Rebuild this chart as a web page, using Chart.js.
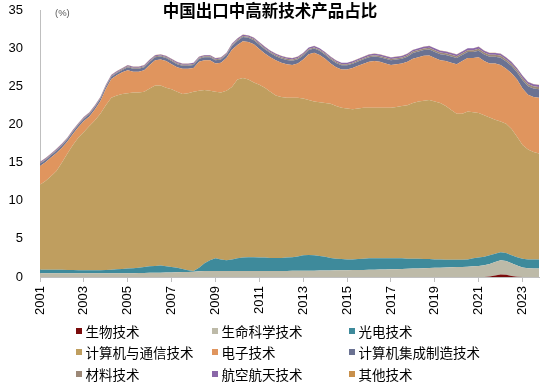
<!DOCTYPE html>
<html>
<head>
<meta charset="utf-8">
<script src="https://cdn.jsdelivr.net/npm/chart.js@4/dist/chart.umd.min.js"></script>
<style>
html,body{margin:0;padding:0;background:#fff;}
#wrap{width:550px;height:386px;position:relative;}
</style>
</head>
<body>
<div id="wrap"><canvas id="c" width="550" height="386"></canvas></div>
<script>
// ---------- texts ----------
const chartTitle = '中国出口中高新技术产品占比';
const unitLabel = '(%)';
const seriesNames = ['生物技术','生命科学技术','光电技术','计算机与通信技术','电子技术','计算机集成制造技术','材料技术','航空航天技术','其他技术'];
const yTickValues = [0,5,10,15,20,25,30,35];
const xTickYears = [2001,2003,2005,2007,2009,2011,2013,2015,2017,2019,2021,2023];
const firstYear = 2001; // quarterly observations, 2001Q1 .. 2023Q4

// ---------- series values (%, one row per year, Q1..Q4) ----------
const biotech = [
0,0,0,0, 0,0,0,0, 0,0,0,0, 0,0,0,0, 0,0,0,0,
0,0,0,0, 0,0,0,0, 0,0,0,0, 0,0,0,0, 0,0,0,0,
0,0,0,0, 0,0,0,0, 0,0,0,0, 0,0,0,0, 0,0,0,0,
0,0,0,0, 0,0,0,0, 0,0,0,0, 0,0,0,0, 0,0,0,0,
0,0,0.08,0.2, 0.33,0.28,0.13,0.03, 0,0,0,0];
const lifeScience = [
0.5,0.5,0.5,0.5, 0.5,0.5,0.5,0.5, 0.5,0.5,0.5,0.5, 0.5,0.5,0.5,0.5,
0.5,0.5,0.52,0.53, 0.55,0.56,0.57,0.58, 0.6,0.62,0.65,0.67, 0.7,0.75,0.8,0.8,
0.8,0.8,0.8,0.8, 0.8,0.8,0.8,0.8, 0.8,0.8,0.8,0.8, 0.8,0.8,0.81,0.81,
0.82,0.82,0.83,0.84, 0.85,0.86,0.87,0.88, 0.9,0.91,0.92,0.93, 0.95,0.96,0.97,0.98,
1.0,1.02,1.04,1.07, 1.1,1.12,1.14,1.17, 1.2,1.22,1.25,1.27, 1.3,1.32,1.35,1.4,
1.45,1.55,1.62,1.75, 1.87,1.82,1.67,1.47, 1.25,1.15,1.1,1.1];
const optoelectronics = [
0.45,0.45,0.45,0.45, 0.45,0.43,0.42,0.4, 0.4,0.4,0.4,0.4, 0.42,0.45,0.5,0.55,
0.6,0.65,0.68,0.77, 0.85,0.89,0.93,0.82, 0.7,0.58,0.4,0.23, 0.08,0.45,1.0,1.4,
1.65,1.5,1.4,1.5, 1.65,1.75,1.8,1.8, 1.75,1.75,1.7,1.7, 1.7,1.75,1.79,1.89,
2.03,2.08,2.02,1.91, 1.8,1.64,1.53,1.47, 1.4,1.39,1.43,1.47, 1.5,1.49,1.48,1.47,
1.45,1.43,1.41,1.33, 1.3,1.28,1.21,1.18, 1.1,1.08,1.0,0.98, 0.95,0.93,0.95,1.05,
1.1,1.1,1.15,1.1, 1.05,1.05,1.05,1.1, 1.15,1.15,1.2,1.2];
const computerComm = [
11.15,11.65,12.25,12.95, 14.05,15.27,16.38,17.4, 18.1,18.9,19.6,20.5, 21.58,22.55,22.8,22.95,
23.0,23.05,23.0,23.0, 23.3,23.65,23.6,23.4, 23.3,23.1,22.95,23.2, 23.52,23.2,22.7,22.2,
21.85,21.9,22.2,22.6, 23.45,23.55,23.3,22.9, 22.65,22.25,21.8,21.3, 21.1,20.95,20.9,20.8,
20.55,20.3,20.15,20.15, 20.15,20.2,20.0,19.85, 19.8,19.7,19.75,19.8, 19.75,19.75,19.75,19.75,
19.75,19.85,19.95,20.1, 20.4,20.6,20.75,20.85, 20.7,20.5,20.15,19.65, 19.15,19.15,19.4,19.15,
18.95,18.55,18.05,17.55, 17.15,16.95,16.55,15.8, 14.9,14.4,14.1,13.9];
const electronics = [
2.45,2.45,2.45,2.35, 1.95,1.55,1.45,1.35, 1.45,1.25,1.45,1.65, 2.15,2.45,2.65,2.85,
3.0,2.7,2.7,2.8, 3.1,3.3,3.4,3.5, 3.3,3.2,3.3,3.2, 3.1,3.8,3.9,4.0,
3.7,3.9,4.3,4.9, 4.5,4.8,4.9,5.0, 4.7,4.5,4.5,4.6, 4.5,4.4,4.3,4.5,
5.1,6.0,6.4,6.2, 5.8,5.3,5.1,5.0, 5.1,5.4,5.6,5.75, 6.0,6.1,6.0,5.8,
5.6,5.6,5.6,5.7, 5.8,5.8,5.9,5.85, 5.7,5.6,5.9,6.2, 6.5,6.9,7.0,7.1,
7.3,7.1,7.1,7.4, 7.4,7.2,7.3,7.5, 7.4,7.2,7.2,7.3];
const integratedMfg = [
0.3,0.3,0.3,0.3, 0.3,0.3,0.3,0.3, 0.3,0.3,0.3,0.3, 0.3,0.3,0.3,0.3,
0.4,0.4,0.4,0.4, 0.4,0.4,0.4,0.4, 0.4,0.4,0.4,0.4, 0.4,0.4,0.4,0.4,
0.4,0.4,0.4,0.47, 0.55,0.55,0.55,0.55, 0.55,0.55,0.55,0.55, 0.55,0.55,0.55,0.55,
0.55,0.55,0.55,0.55, 0.55,0.55,0.55,0.55, 0.55,0.55,0.55,0.58, 0.6,0.6,0.6,0.6,
0.6,0.6,0.6,0.67, 0.75,0.75,0.75,0.78, 0.8,0.8,0.8,0.8, 0.8,0.8,0.8,0.8,
0.87,0.87,0.87,0.87, 0.95,0.95,0.95,0.95, 1.1,1.1,1.1,1.1];
const materials = [
0.1,0.1,0.1,0.1, 0.1,0.1,0.1,0.1, 0.1,0.1,0.1,0.1, 0.1,0.1,0.1,0.1,
0.13,0.13,0.13,0.13, 0.13,0.13,0.13,0.13, 0.13,0.13,0.13,0.13, 0.13,0.13,0.13,0.13,
0.13,0.13,0.13,0.14, 0.15,0.15,0.15,0.15, 0.15,0.15,0.15,0.15, 0.15,0.15,0.15,0.15,
0.15,0.15,0.15,0.15, 0.15,0.15,0.15,0.15, 0.15,0.15,0.15,0.16, 0.18,0.18,0.18,0.18,
0.18,0.18,0.18,0.19, 0.2,0.2,0.2,0.21, 0.23,0.23,0.23,0.23, 0.23,0.23,0.23,0.23,
0.25,0.25,0.25,0.25, 0.27,0.27,0.27,0.27, 0.3,0.3,0.3,0.3];
const aerospace = [
0.12,0.12,0.12,0.12, 0.12,0.12,0.12,0.12, 0.12,0.12,0.12,0.12, 0.12,0.12,0.12,0.12,
0.14,0.14,0.14,0.14, 0.14,0.14,0.14,0.14, 0.14,0.14,0.14,0.14, 0.14,0.14,0.14,0.14,
0.14,0.14,0.14,0.16, 0.17,0.17,0.17,0.17, 0.17,0.17,0.17,0.17, 0.17,0.17,0.17,0.17,
0.17,0.17,0.17,0.17, 0.17,0.17,0.17,0.17, 0.17,0.17,0.17,0.18, 0.19,0.19,0.19,0.19,
0.19,0.19,0.19,0.21, 0.22,0.22,0.22,0.23, 0.24,0.24,0.24,0.24, 0.24,0.24,0.24,0.24,
0.25,0.25,0.25,0.25, 0.25,0.25,0.25,0.25, 0.27,0.27,0.27,0.27];
const otherTech = [
0.03,0.03,0.03,0.03, 0.03,0.03,0.03,0.03, 0.03,0.03,0.03,0.03, 0.03,0.03,0.03,0.03,
0.03,0.03,0.03,0.03, 0.03,0.03,0.03,0.03, 0.03,0.03,0.03,0.03, 0.03,0.03,0.03,0.03,
0.03,0.03,0.03,0.03, 0.03,0.03,0.03,0.03, 0.03,0.03,0.03,0.03, 0.03,0.03,0.03,0.03,
0.03,0.03,0.03,0.03, 0.03,0.03,0.03,0.03, 0.03,0.03,0.03,0.03, 0.03,0.03,0.03,0.03,
0.03,0.03,0.03,0.03, 0.03,0.03,0.03,0.03, 0.03,0.03,0.03,0.03, 0.03,0.03,0.03,0.03,
0.03,0.03,0.03,0.03, 0.03,0.03,0.03,0.03, 0.03,0.03,0.03,0.03];

const seriesValues = [biotech, lifeScience, optoelectronics, computerComm, electronics, integratedMfg, materials, aerospace, otherTech];

// ---------- styles ----------
const seriesColors = ['#7a0b0b','#bdbaa8','#3e8a9b','#bf9e5f','#e0955e','#6b7292','#9c8877','#8a67a8','#c8904c'];
const fontLatin = '"Liberation Sans", Arial, sans-serif';
const fontCJK = '"Noto Sans CJK SC", "Noto Sans", sans-serif';
const legendColX = [76, 212, 349];
const legendRowY = [331, 352, 374];

// x positions of the quarterly observations (decimal years)
const quarterPositions = biotech.map((_, i) => firstYear + i / 4);

const datasets = seriesNames.map((name, k) => ({
  label: name,
  data: seriesValues[k],
  backgroundColor: seriesColors[k],
  borderColor: seriesColors[k],
  borderWidth: 0,
  pointRadius: 0,
  pointHoverRadius: 0,
  tension: 0,
  fill: k === 0 ? 'origin' : '-1'
}));

const decorations = {
  id: 'decorations',
  afterDraw(chart) {
    const c = chart.ctx;
    c.save();
    c.fillStyle = '#000';
    c.font = 'bold 16.5px ' + fontCJK;
    c.textAlign = 'center';
    c.textBaseline = 'middle';
    c.fillText(chartTitle, 270, 11);
    c.fillStyle = '#595959';
    c.font = '9.5px ' + fontLatin;
    c.textAlign = 'left';
    c.fillText(unitLabel, 55, 13);
    c.font = '13.5px ' + fontCJK;
    c.textBaseline = 'middle';
    seriesNames.forEach((name, k) => {
      const col = k % 3, row = Math.floor(k / 3);
      const x = legendColX[col], y = legendRowY[row];
      c.fillStyle = seriesColors[k];
      c.fillRect(x, y - 3, 6, 6);
      c.fillStyle = '#000';
      c.fillText(name, x + 9.5, y + 0.5);
    });
    c.restore();
  }
};

new Chart(document.getElementById('c').getContext('2d'), {
  type: 'line',
  data: { labels: quarterPositions, datasets },
  plugins: [decorations],
  options: {
    responsive: false,
    animation: false,
    devicePixelRatio: 1,
    layout: { padding: { left: 8, right: 11, top: 4, bottom: 0 } },
    plugins: { legend: { display: false }, title: { display: false }, tooltip: { enabled: false } },
    scales: {
      x: {
        type: 'linear',
        min: 2001,
        max: 2023.75,
        afterBuildTicks: ax => { ax.ticks = xTickYears.map(v => ({ value: v })); },
        afterFit: s => { s.height = 109; },
        ticks: {
          autoSkip: false, maxRotation: 90, minRotation: 90, padding: 4,
          color: '#000', font: { family: fontLatin, size: 13 },
          callback: v => String(v)
        },
        grid: { display: true, drawOnChartArea: false, drawTicks: true, tickLength: 5, color: '#bfbfbf' },
        border: { display: true, color: '#bfbfbf', width: 1 }
      },
      y: {
        stacked: true,
        min: 0,
        max: 35,
        afterBuildTicks: ax => { ax.ticks = yTickValues.map(v => ({ value: v })); },
        afterFit: s => { s.width = 32; s.paddingTop = 10; s.paddingBottom = 0; },
        ticks: { padding: 17, color: '#000', font: { family: fontLatin, size: 13 }, callback: v => String(v) },
        grid: { display: false, drawTicks: false },
        border: { display: true, color: '#bfbfbf', width: 1 }
      }
    }
  }
});
</script>
</body>
</html>
